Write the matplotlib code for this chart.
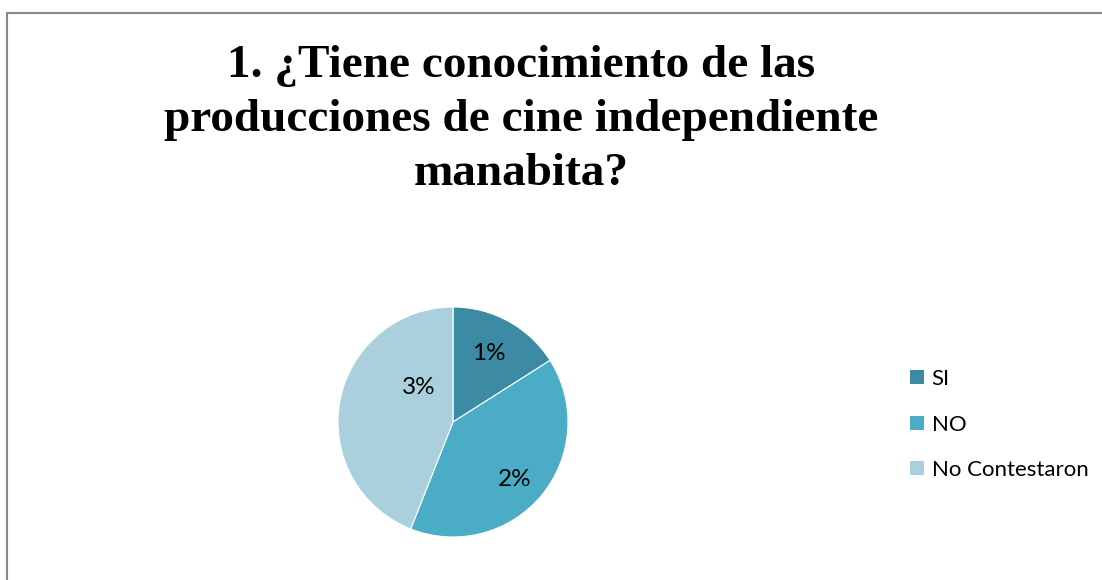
import matplotlib
matplotlib.use('Agg')
import matplotlib.pyplot as plt
from matplotlib.patches import Patch
from matplotlib.lines import Line2D

categories = ['SI', 'NO', 'No Contestaron']
shares = [16, 40, 44]
pct_labels = ['1%', '2%', '3%']
colors = ['#3C8AA3', '#4BACC6', '#AACFDD']
title = '1. ¿Tiene conocimiento de las\nproducciones de cine independiente\nmanabita?'

# label spots inside the pie (Excel-like placement)
label_pos = [(0.31, 0.60), (0.54, -0.50), (-0.30, 0.30)]

W, H = 1102, 580
fig = plt.figure(figsize=(W / 100, H / 100), dpi=100)

# outer chart border (left and top visible)
fig.add_artist(Line2D([7 / W, 7 / W], [0, 1 - 13 / H], transform=fig.transFigure,
                      color='#878787', lw=1.5))
fig.add_artist(Line2D([7 / W, 1], [1 - 13 / H, 1 - 13 / H], transform=fig.transFigure,
                      color='#878787', lw=1.5))

fig.text(521 / W, 1 - 120 / H, title, ha='center', va='center',
         fontsize=34, fontweight='bold', family='Liberation Serif', linespacing=1.39)

cx, cy, r = 453, 422, 115
ax = fig.add_axes([(cx - r) / W, (H - cy - r) / H, 2 * r / W, 2 * r / H])
ax.pie(shares, colors=colors, startangle=90, counterclock=False, radius=1,
       wedgeprops=dict(linewidth=0.8, edgecolor='white'))
ax.set_xlim(-1, 1)
ax.set_ylim(-1, 1)
ax.axis('off')

for (x, y), lab in zip(label_pos, pct_labels):
    ax.text(x, y, lab, ha='center', va='center', fontsize=17.5, family='Lato')

handles = [Patch(facecolor=c, edgecolor='none') for c in colors]
fig.legend(handles, categories, loc='upper left', bbox_to_anchor=(910 / W, 1 - 369 / H),
           frameon=False, borderpad=0, borderaxespad=0, handlelength=0.62, handleheight=0.62,
           handletextpad=0.35, labelspacing=1.15, prop=dict(family='Lato', size=16))

fig.savefig('out.png', dpi=100, facecolor='white')
